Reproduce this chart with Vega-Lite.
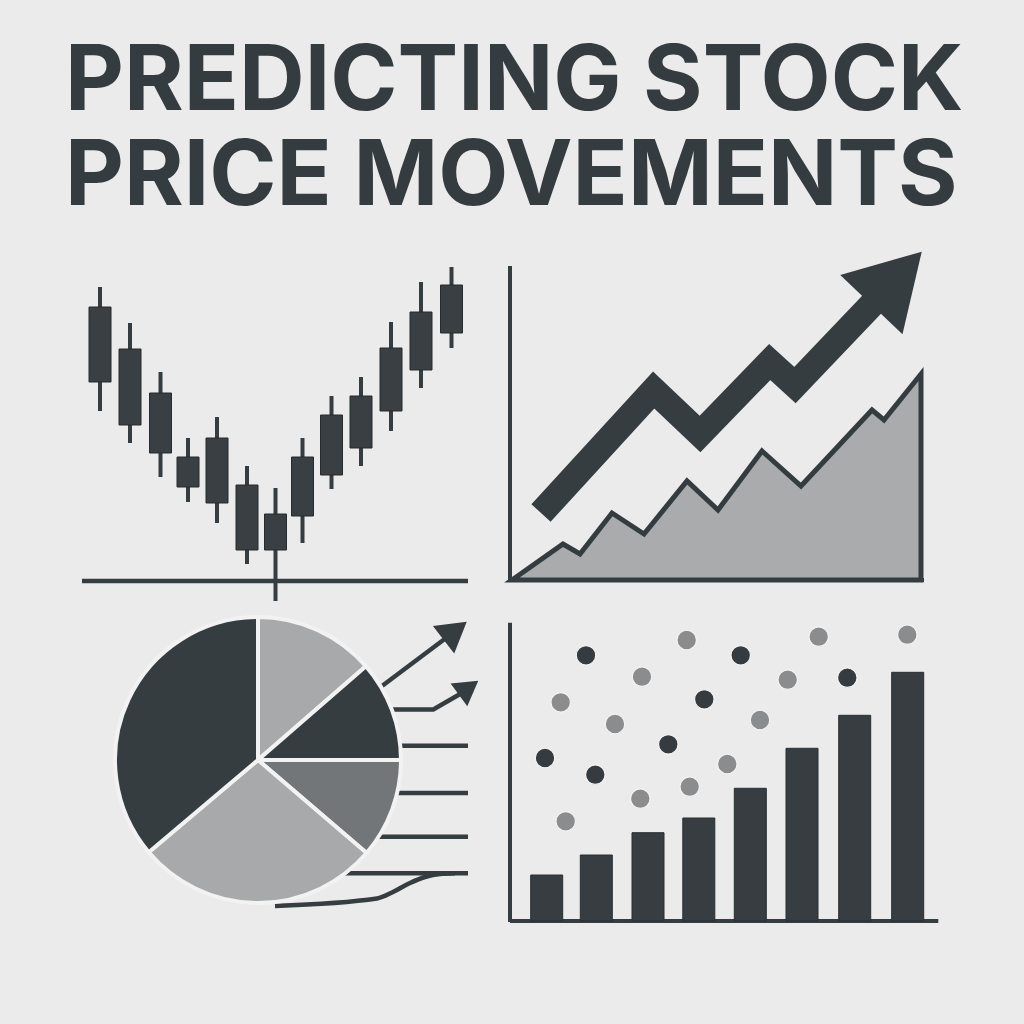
{
  "$schema": "https://vega.github.io/schema/vega-lite/v6.json",
  "background": "#ebebeb",
  "padding": {"left": 65, "right": 60, "top": 37, "bottom": 94},
  "title": {
    "text": ["PREDICTING STOCK", "PRICE MOVEMENTS"],
    "anchor": "start",
    "frame": "group",
    "font": "Inter",
    "fontSize": 91,
    "fontWeight": 700,
    "lineHeight": 95,
    "color": "#353c40",
    "dx": -5,
    "offset": -56
  },
  "config": {
    "view": {"stroke": null},
    "axis": {"disable": true},
    "legend": {"disable": true}
  },
  "bounds": "flush",
  "columns": 2,
  "spacing": {"row": 5, "column": 10},
  "concat": [
    {
      "width": 420,
      "height": 355,
      "layer": [
        {
          "data": {"values": [{"x0": 12, "x1": 398, "p": 24}]},
          "mark": {"type": "rule", "color": "#363d41", "strokeWidth": 4.5},
          "encoding": {
            "x": {"field": "x0", "type": "quantitative", "scale": {"domain": [0, 420], "nice": false, "padding": 0}},
            "x2": {"field": "x1"},
            "y": {"field": "p", "type": "quantitative", "scale": {"domain": [0, 355], "nice": false, "padding": 0}}
          }
        },
        {
          "data": {"name": "candles", "values": [
            {"t": 30, "low": 194, "high": 318, "open": 298, "close": 223},
            {"t": 60, "low": 162, "high": 282, "open": 256, "close": 180},
            {"t": 90.5, "low": 128, "high": 233, "open": 212, "close": 152},
            {"t": 118, "low": 103, "high": 167, "open": 148, "close": 118},
            {"t": 147, "low": 82, "high": 188, "open": 167, "close": 102},
            {"t": 177, "low": 41, "high": 139, "open": 120, "close": 55},
            {"t": 205.5, "low": 4, "high": 117, "open": 55, "close": 91},
            {"t": 232.5, "low": 62, "high": 167, "open": 89, "close": 148},
            {"t": 261.5, "low": 116, "high": 209, "open": 130, "close": 190},
            {"t": 291, "low": 139, "high": 228, "open": 157, "close": 209},
            {"t": 321, "low": 174, "high": 283, "open": 194, "close": 257},
            {"t": 351, "low": 217, "high": 323, "open": 235, "close": 293},
            {"t": 381.5, "low": 257, "high": 338, "open": 272, "close": 320}
          ]},
          "mark": {"type": "rule", "color": "#363d41", "strokeWidth": 4},
          "encoding": {
            "x": {"field": "t", "type": "quantitative", "scale": {"domain": [0, 420], "nice": false, "padding": 0}},
            "y": {"field": "low", "type": "quantitative", "scale": {"domain": [0, 355], "nice": false, "padding": 0}},
            "y2": {"field": "high"}
          }
        },
        {
          "data": {"name": "candles"},
          "mark": {"type": "bar", "width": 22, "fill": "#393f43", "stroke": "#262b2d", "strokeWidth": 1},
          "encoding": {
            "x": {"field": "t", "type": "quantitative", "scale": {"domain": [0, 420], "nice": false, "padding": 0}},
            "y": {"field": "open", "type": "quantitative", "scale": {"domain": [0, 355], "nice": false, "padding": 0}},
            "y2": {"field": "close"}
          }
        }
      ]
    },
    {
      "width": 440,
      "height": 355,
      "layer": [
        {
          "data": {"values": [
            {"t": 12, "v": 25}, {"t": 63, "v": 61}, {"t": 80, "v": 51},
            {"t": 112, "v": 92}, {"t": 144, "v": 71}, {"t": 187, "v": 124},
            {"t": 218, "v": 95}, {"t": 262, "v": 154}, {"t": 301, "v": 119},
            {"t": 372, "v": 195}, {"t": 384, "v": 185}, {"t": 421, "v": 231}
          ]},
          "mark": {"type": "area", "fill": "#a9abac", "stroke": "#353c40", "strokeWidth": 5, "strokeJoin": "miter"},
          "encoding": {
            "x": {"field": "t", "type": "quantitative", "scale": {"domain": [0, 440], "nice": false}},
            "y": {"field": "v", "type": "quantitative", "scale": {"domain": [0, 355], "nice": false}},
            "y2": {"datum": 25}
          }
        },
        {
          "data": {"values": [
            {"x0": 10, "x1": 10, "y0": 23, "y1": 339},
            {"x0": 10, "x1": 424, "y0": 25, "y1": 25}
          ]},
          "mark": {"type": "rule", "color": "#363d41", "strokeWidth": 4},
          "encoding": {
            "x": {"field": "x0", "type": "quantitative", "scale": {"domain": [0, 440], "nice": false}},
            "x2": {"field": "x1"},
            "y": {"field": "y0", "type": "quantitative", "scale": {"domain": [0, 355], "nice": false}},
            "y2": {"field": "y1"}
          }
        },
        {
          "data": {"values": [
            {"t": 41, "v": 92}, {"t": 153.7, "v": 215}, {"t": 200, "v": 171},
            {"t": 269.7, "v": 243}, {"t": 295, "v": 220}, {"t": 378, "v": 307}
          ]},
          "mark": {"type": "line", "color": "#363d41", "strokeWidth": 26, "strokeJoin": "miter", "strokeCap": "butt", "strokeMiterLimit": 10},
          "encoding": {
            "x": {"field": "t", "type": "quantitative", "scale": {"domain": [0, 440], "nice": false}},
            "y": {"field": "v", "type": "quantitative", "scale": {"domain": [0, 355], "nice": false}}
          }
        },
        {
          "data": {"values": [{"t": 392.1, "v": 322.2}]},
          "mark": {"type": "point", "shape": "M0,-1L1,0.7L-1,0.7Z", "size": 7396, "angle": 43.6, "filled": true, "opacity": 1, "color": "#363d41"},
          "encoding": {
            "x": {"field": "t", "type": "quantitative", "scale": {"domain": [0, 440], "nice": false}},
            "y": {"field": "v", "type": "quantitative", "scale": {"domain": [0, 355], "nice": false}}
          }
        }
      ]
    },
    {
      "width": 420,
      "height": 320,
      "layer": [
        {
          "data": {"values": [
            {"id": "a1", "x": 306.7, "y": 240}, {"id": "a1", "x": 376, "y": 292},
            {"id": "a2", "x": 318, "y": 220.5}, {"id": "a2", "x": 363.3, "y": 220.5}, {"id": "a2", "x": 391, "y": 236.5},
            {"id": "h3", "x": 320, "y": 184.3}, {"id": "h3", "x": 398, "y": 184.3},
            {"id": "h4", "x": 315, "y": 137}, {"id": "h4", "x": 398, "y": 137},
            {"id": "h5", "x": 295, "y": 93.3}, {"id": "h5", "x": 398, "y": 93.3},
            {"id": "h6", "x": 265, "y": 56.7}, {"id": "h6", "x": 398, "y": 56.7}
          ]},
          "mark": {"type": "line", "color": "#363d41", "strokeWidth": 4.5, "strokeCap": "butt"},
          "encoding": {
            "x": {"field": "x", "type": "quantitative", "scale": {"domain": [0, 420], "nice": false}},
            "y": {"field": "y", "type": "quantitative", "scale": {"domain": [0, 320], "nice": false}},
            "detail": {"field": "id"}
          }
        },
        {
          "data": {"values": [
            {"x": 205, "y": 24}, {"x": 307, "y": 31.5}, {"x": 323, "y": 38},
            {"x": 340, "y": 47}, {"x": 355, "y": 53}, {"x": 370, "y": 56}, {"x": 385, "y": 56.7}
          ]},
          "mark": {"type": "line", "color": "#363d41", "strokeWidth": 4.5, "interpolate": "monotone", "strokeCap": "butt"},
          "encoding": {
            "x": {"field": "x", "type": "quantitative", "scale": {"domain": [0, 420], "nice": false}},
            "y": {"field": "y", "type": "quantitative", "scale": {"domain": [0, 320], "nice": false}}
          }
        },
        {
          "data": {"values": [
            {"x": 383.1, "y": 297.7, "s": 1197, "a": 52},
            {"x": 396.9, "y": 241, "s": 795, "a": 53.7}
          ]},
          "mark": {"type": "point", "shape": "M0,-1L1,0.7L-1,0.7Z", "filled": true, "opacity": 1, "color": "#363d41"},
          "encoding": {
            "x": {"field": "x", "type": "quantitative", "scale": {"domain": [0, 420], "nice": false}},
            "y": {"field": "y", "type": "quantitative", "scale": {"domain": [0, 320], "nice": false}},
            "size": {"field": "s", "type": "quantitative", "scale": null},
            "angle": {"field": "a", "type": "quantitative", "scale": null}
          }
        },
        {
          "data": {"values": [
            {"k": 1, "tone": "light", "share": 49},
            {"k": 2, "tone": "dark", "share": 41},
            {"k": 3, "tone": "mid", "share": 40.6},
            {"k": 4, "tone": "light", "share": 99.2},
            {"k": 5, "tone": "dark", "share": 130.2}
          ]},
          "mark": {"type": "arc", "outerRadius": 143, "stroke": "#f2f2f2", "strokeWidth": 4},
          "encoding": {
            "x": {"datum": 188, "type": "quantitative", "scale": {"domain": [0, 420], "nice": false}},
            "y": {"datum": 170, "type": "quantitative", "scale": {"domain": [0, 320], "nice": false}},
            "theta": {"field": "share", "type": "quantitative"},
            "order": {"field": "k", "type": "quantitative"},
            "color": {"field": "tone", "type": "nominal", "scale": {"domain": ["dark", "mid", "light"], "range": ["#363d41", "#727678", "#a7a9aa"]}}
          }
        }
      ]
    },
    {
      "width": 440,
      "height": 320,
      "layer": [
        {
          "data": {"values": [
            {"x0": 10, "x1": 10, "y0": 8, "y1": 307.3},
            {"x0": 10, "x1": 438.3, "y0": 9, "y1": 9}
          ]},
          "mark": {"type": "rule", "color": "#363d41", "strokeWidth": 4},
          "encoding": {
            "x": {"field": "x0", "type": "quantitative", "scale": {"domain": [0, 440], "nice": false, "padding": 0}},
            "x2": {"field": "x1"},
            "y": {"field": "y0", "type": "quantitative", "scale": {"domain": [0, 320], "nice": false, "padding": 0}},
            "y2": {"field": "y1"}
          }
        },
        {
          "data": {"values": [
            {"t": 46.7, "h": 55}, {"t": 96.3, "h": 75}, {"t": 148, "h": 97.3},
            {"t": 198.8, "h": 112}, {"t": 250.3, "h": 141.7}, {"t": 302, "h": 181.7},
            {"t": 354.7, "h": 214.7}, {"t": 407.7, "h": 257.7}
          ]},
          "mark": {"type": "bar", "width": 32, "fill": "#373d41", "stroke": "#2a2f31", "strokeWidth": 1},
          "encoding": {
            "x": {"field": "t", "type": "quantitative", "scale": {"domain": [0, 440], "nice": false, "padding": 0}},
            "y": {"field": "h", "type": "quantitative", "scale": {"domain": [0, 320], "nice": false, "padding": 0}},
            "y2": {"datum": 9}
          }
        },
        {
          "data": {"values": [
            {"x": 60.7, "y": 227.7, "kind": "g"}, {"x": 86, "y": 274.7, "kind": "d"},
            {"x": 45, "y": 172, "kind": "d"}, {"x": 65.7, "y": 108.7, "kind": "g"},
            {"x": 95.3, "y": 155.3, "kind": "d"}, {"x": 115, "y": 206, "kind": "g"},
            {"x": 142, "y": 253.3, "kind": "g"}, {"x": 140.3, "y": 131.3, "kind": "g"},
            {"x": 186.7, "y": 290, "kind": "g"}, {"x": 168.3, "y": 185.7, "kind": "d"},
            {"x": 204.3, "y": 230.7, "kind": "d"}, {"x": 189.7, "y": 143.3, "kind": "g"},
            {"x": 240.7, "y": 274.7, "kind": "d"}, {"x": 227.3, "y": 166, "kind": "g"},
            {"x": 260, "y": 210, "kind": "g"}, {"x": 287.7, "y": 250.3, "kind": "g"},
            {"x": 318.7, "y": 293.3, "kind": "g"}, {"x": 347.3, "y": 252.3, "kind": "d"},
            {"x": 407.3, "y": 295.3, "kind": "g"}
          ]},
          "mark": {"type": "point", "shape": "circle", "size": 380, "filled": true, "opacity": 1, "stroke": "#f4f4f4", "strokeWidth": 1.2},
          "encoding": {
            "x": {"field": "x", "type": "quantitative", "scale": {"domain": [0, 440], "nice": false, "padding": 0}},
            "y": {"field": "y", "type": "quantitative", "scale": {"domain": [0, 320], "nice": false, "padding": 0}},
            "fill": {"field": "kind", "type": "nominal", "scale": {"domain": ["d", "g"], "range": ["#353b3f", "#8a8c8d"]}}
          }
        }
      ]
    }
  ]
}
